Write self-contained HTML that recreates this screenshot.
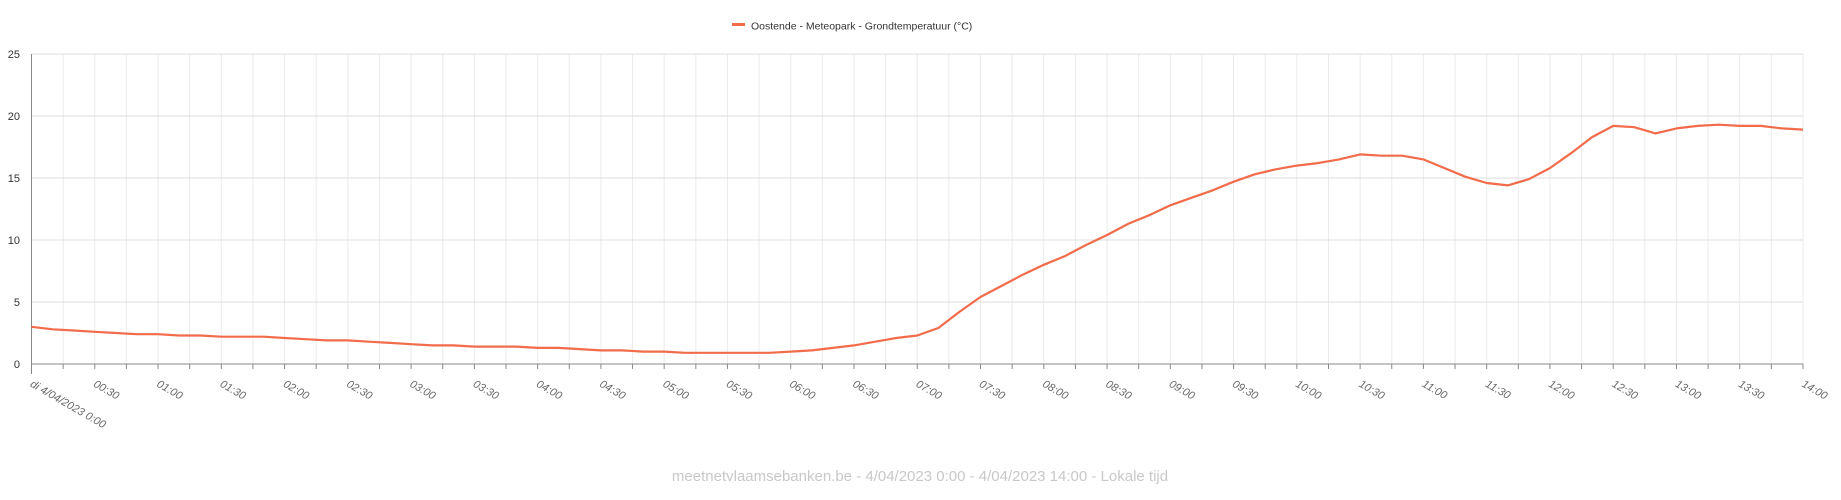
<!DOCTYPE html>
<html><head><meta charset="utf-8"><style>
html,body{margin:0;padding:0;background:#fff;width:1841px;height:500px;overflow:hidden}
svg{display:block;font-family:"Liberation Sans",sans-serif}
</style></head><body>
<svg id="c" width="1841" height="500" xmlns="http://www.w3.org/2000/svg">
<rect x="732" y="23" width="13" height="3" fill="#f26b4b"/>
<text x="751" y="29.5" font-size="10.5" fill="#333">Oostende - Meteopark - Grondtemperatuur (°C)</text>
<text x="920" y="481" font-size="15" fill="#c8c8c8" text-anchor="middle">meetnetvlaamsebanken.be - 4/04/2023 0:00 - 4/04/2023 14:00 - Lokale tijd</text>
<g id="g"></g>
</svg>
<script>
var x0=31.5,x1=1803,yT=54,yB=364;
var g=document.getElementById('g'),s='';
function X(m){return x0+(x1-x0)*m/840}
function Y(v){return yB-(yB-yT)*v/25}
for(var m=15;m<=840;m+=15){var x=X(m);s+='<line x1="'+x+'" y1="'+yT+'" x2="'+x+'" y2="'+yB+'" stroke="#ebebeb"/>'}
for(var v=5;v<=25;v+=5){var y=Y(v);s+='<line x1="'+x0+'" y1="'+y+'" x2="'+x1+'" y2="'+y+'" stroke="#dcdcdc"/>'}
for(var v=0;v<=25;v+=5){s+='<text x="20" y="'+(Y(v)+4)+'" font-size="11" fill="#333" text-anchor="end">'+v+'</text>'}
s+='<line x1="'+x0+'" y1="'+yB+'" x2="'+x1+'" y2="'+yB+'" stroke="#888"/>';
s+='<line x1="'+x0+'" y1="'+yT+'" x2="'+x0+'" y2="'+(yB+10)+'" stroke="#888"/>';
for(var m=15;m<=840;m+=15){var x=X(m);s+='<line x1="'+x+'" y1="'+yB+'" x2="'+x+'" y2="'+(yB+5)+'" stroke="#888"/>'}
for(var m=0;m<=840;m+=30){var x=X(m);var h=Math.floor(m/60),mm=m%60;
var t=m==0?'di 4/04/2023 0:00':(h<10?'0':'')+h+':'+(mm<10?'0':'')+mm;
s+='<text transform="translate('+(x-2)+','+(yB+22)+') rotate(30)" font-size="11" font-style="italic" fill="#666">'+t+'</text>'}
var d=[3.0,2.8,2.7,2.6,2.5,2.4,2.4,2.3,2.3,2.2,2.2,2.2,2.1,2.0,1.9,1.9,1.8,1.7,1.6,1.5,1.5,1.4,1.4,1.4,1.3,1.3,1.2,1.1,1.1,1.0,1.0,0.9,0.9,0.9,0.9,0.9,1.0,1.1,1.3,1.5,1.8,2.1,2.3,2.9,4.2,5.4,6.3,7.2,8.0,8.7,9.6,10.4,11.3,12.0,12.8,13.4,14.0,14.7,15.3,15.7,16.0,16.2,16.5,16.9,16.8,16.8,16.5,15.8,15.1,14.6,14.4,14.9,15.8,17.0,18.3,19.2,19.1,18.6,19.0,19.2,19.3,19.2,19.2,19.0,18.9];
var p=d.map(function(v,i){return X(i*10).toFixed(1)+','+Y(v).toFixed(1)}).join(' ');
s+='<polyline points="'+p+'" fill="none" stroke="#f26b4b" stroke-width="2.2" stroke-linejoin="round"/>';
g.innerHTML=s;
</script>
</body></html>
